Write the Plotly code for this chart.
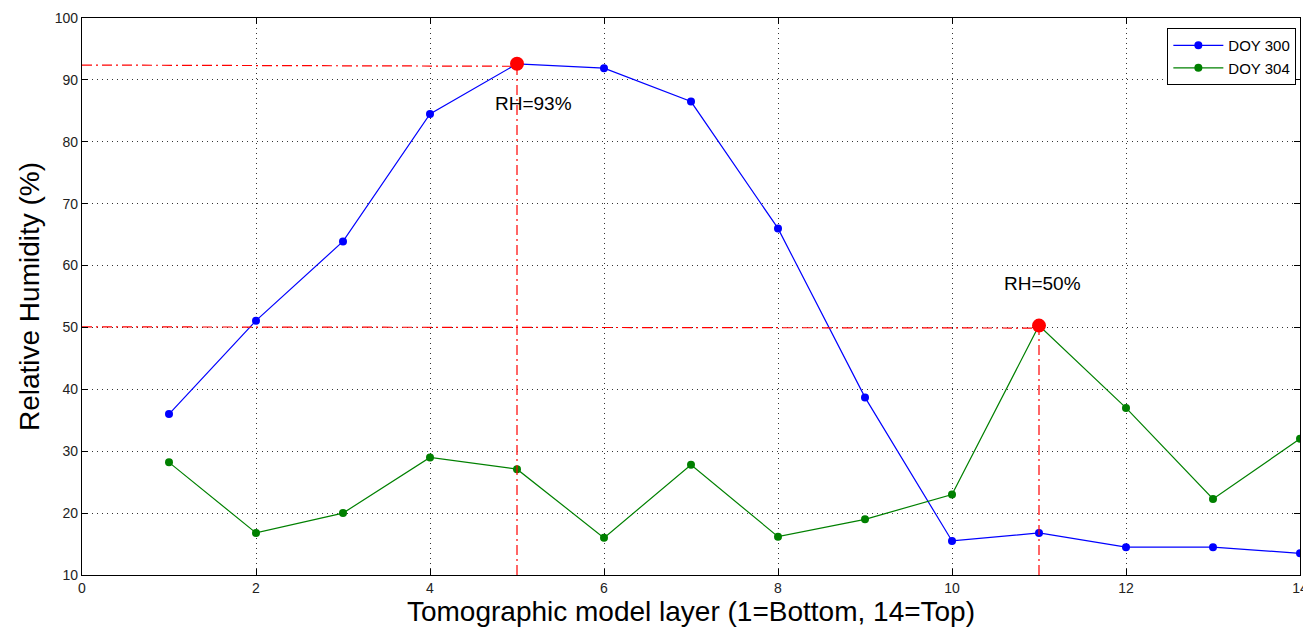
import plotly.graph_objects as go

layers = list(range(1, 15))
doy300 = [36, 51.1, 63.9, 84.5, 92.6, 91.9, 86.5, 66, 38.7, 15.5, 16.8, 14.5, 14.5, 13.5]
doy304 = [28.2, 16.8, 20, 29, 27.1, 16, 27.8, 16.2, 19, 23, 50.3, 37, 22.3, 32]
peak_x = [5, 11]
peak_y = [92.6, 50.3]
peak_labels = ["RH=93%", "RH=50%"]
xticks = [0, 2, 4, 6, 8, 10, 12, 14]
yticks = [10, 20, 30, 40, 50, 60, 70, 80, 90, 100]

fig = go.Figure()
fig.add_trace(go.Scatter(x=layers, y=doy300, mode="lines+markers", name="DOY 300",
                         line=dict(color="#0000ff", width=1.2),
                         marker=dict(color="#0000ff", size=8)))
fig.add_trace(go.Scatter(x=layers, y=doy304, mode="lines+markers", name="DOY 304",
                         line=dict(color="#008000", width=1.2),
                         marker=dict(color="#008000", size=8)))

# red dash-dot guide lines
for px, py in zip(peak_x, peak_y):
    fig.add_trace(go.Scatter(x=[0, px], y=[py - 0.2, py - 0.4], mode="lines", showlegend=False,
                             line=dict(color="#ff0000", width=1.2, dash="10px,4px,2px,4px"), hoverinfo="skip"))
    fig.add_trace(go.Scatter(x=[px, px], y=[10, py], mode="lines", showlegend=False,
                             line=dict(color="#ff0000", width=1.2, dash="10px,4px,2px,4px"), hoverinfo="skip"))

fig.add_trace(go.Scatter(x=peak_x, y=peak_y, mode="markers", showlegend=False,
                         marker=dict(color="#ff0000", size=14)))

fig.add_annotation(x=peak_x[0], y=peak_y[0], text=peak_labels[0], showarrow=False,
                   xanchor="center", yanchor="middle", xshift=16, yshift=-40,
                   font=dict(family="Arial, Liberation Sans", size=19, color="black"))
fig.add_annotation(x=peak_x[1], y=peak_y[1], text=peak_labels[1], showarrow=False,
                   xanchor="center", yanchor="middle", xshift=3, yshift=42,
                   font=dict(family="Arial, Liberation Sans", size=19, color="black"))

axis_common = dict(showline=True, linecolor="black", linewidth=1.2, mirror="ticks",
                   ticks="inside", ticklen=6, tickcolor="black", automargin=False,
                   showgrid=True, gridcolor="#333", griddash="1px,4px", gridwidth=1,
                   zeroline=False, tickfont=dict(family="Arial, Liberation Sans", size=14, color="#222"))

fig.update_xaxes(range=[0, 14], tickvals=xticks, **axis_common,
                 title=dict(text="Tomographic model layer (1=Bottom, 14=Top)",
                            font=dict(family="Arial, Liberation Sans", size=28, color="black"), standoff=0))
fig.update_yaxes(range=[10, 100], tickvals=yticks, **axis_common,
                 title=dict(text="Relative Humidity (%)",
                            font=dict(family="Arial, Liberation Sans", size=28, color="black"), standoff=6))

# page body has an 8px default margin; size the figure so the plot box lands where the reference has it
fig.update_layout(width=1303, height=627, margin=dict(l=74, r=11, t=10, b=60, autoexpand=False),
                  plot_bgcolor="white", paper_bgcolor="white",
                  legend=dict(x=0.997, y=0.982, xanchor="right", yanchor="top", itemwidth=50,
                              bordercolor="black", borderwidth=1, bgcolor="white",
                              font=dict(family="Arial, Liberation Sans", size=15, color="black")))

fig.write_html("out.html")
